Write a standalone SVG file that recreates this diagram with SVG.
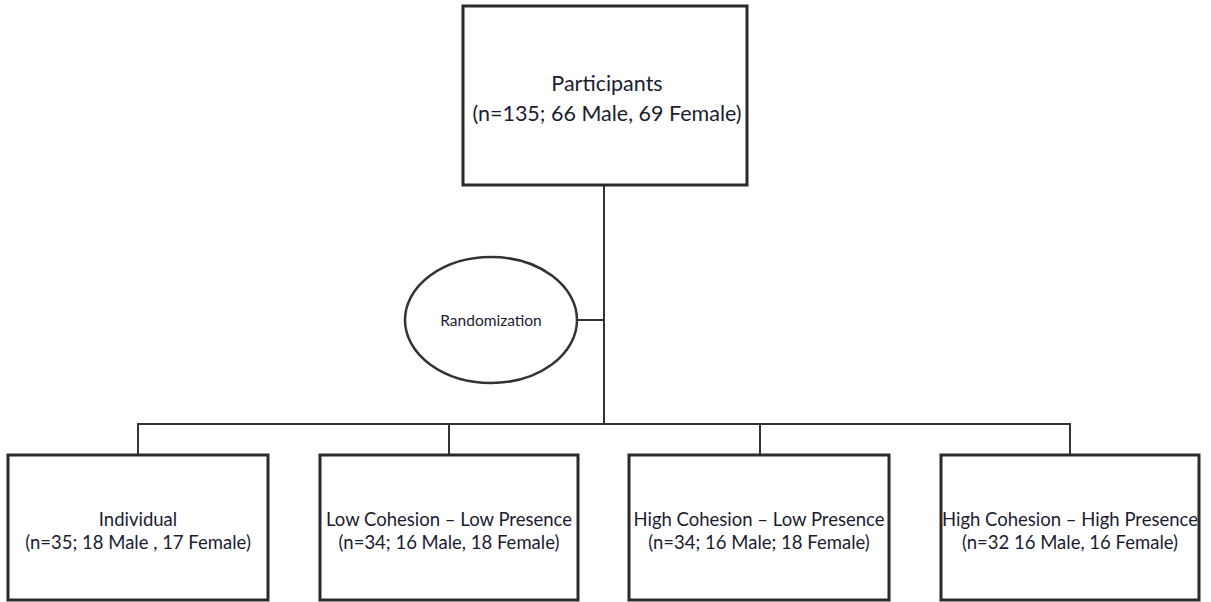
<svg xmlns="http://www.w3.org/2000/svg" width="1211" height="602" viewBox="0 0 1211 602">
<style>
.box{fill:#fff;stroke:#2a2a2a;stroke-width:3}
.ell{fill:#fff;stroke:#333;stroke-width:2.5}
.ln{fill:none;stroke:#333;stroke-width:2}
.t{font-family:Lato,"Open Sans",sans-serif;fill:#1c1c30;text-anchor:middle}
.big{font-size:21.5px}
.sm{font-size:18.5px}
.xs{font-size:15.5px}
</style>
<rect width="1211" height="602" fill="#fff"/>
<g id="connectors">
<path class="ln" d="M604 185 V424"/>
<path class="ln" d="M577 320 H604"/>
<path class="ln" d="M138 454 V424 H1070 V454"/>
<path class="ln" d="M449 424 V454"/>
<path class="ln" d="M760 424 V454"/>
</g>
<g id="participants">
<rect class="box" x="463" y="6" width="284" height="179"/>
<text class="t big" x="607" y="91">Participants</text>
<text class="t big" x="607" y="121">(n=135; 66 Male, 69 Female)</text>
</g>
<g id="randomization">
<ellipse class="ell" cx="491" cy="320" rx="86" ry="63"/>
<text class="t xs" x="491" y="326">Randomization</text>
</g>
<g id="individual">
<rect class="box" x="8" y="455" width="260" height="145"/>
<text class="t sm" x="138" y="526">Individual</text>
<text class="t sm" x="138" y="549">(n=35; 18 Male , 17 Female)</text>
</g>
<g id="lowlow">
<rect class="box" x="320" y="455" width="258" height="145"/>
<text class="t sm" x="449" y="526">Low Cohesion – Low Presence</text>
<text class="t sm" x="449" y="549">(n=34; 16 Male, 18 Female)</text>
</g>
<g id="highlow">
<rect class="box" x="629" y="455" width="260" height="145"/>
<text class="t sm" x="759" y="526">High Cohesion – Low Presence</text>
<text class="t sm" x="759" y="549">(n=34; 16 Male; 18 Female)</text>
</g>
<g id="highhigh">
<rect class="box" x="941" y="455" width="258" height="145"/>
<text class="t sm" x="1070" y="526">High Cohesion – High Presence</text>
<text class="t sm" x="1070" y="549">(n=32 16 Male, 16 Female)</text>
</g>
</svg>
